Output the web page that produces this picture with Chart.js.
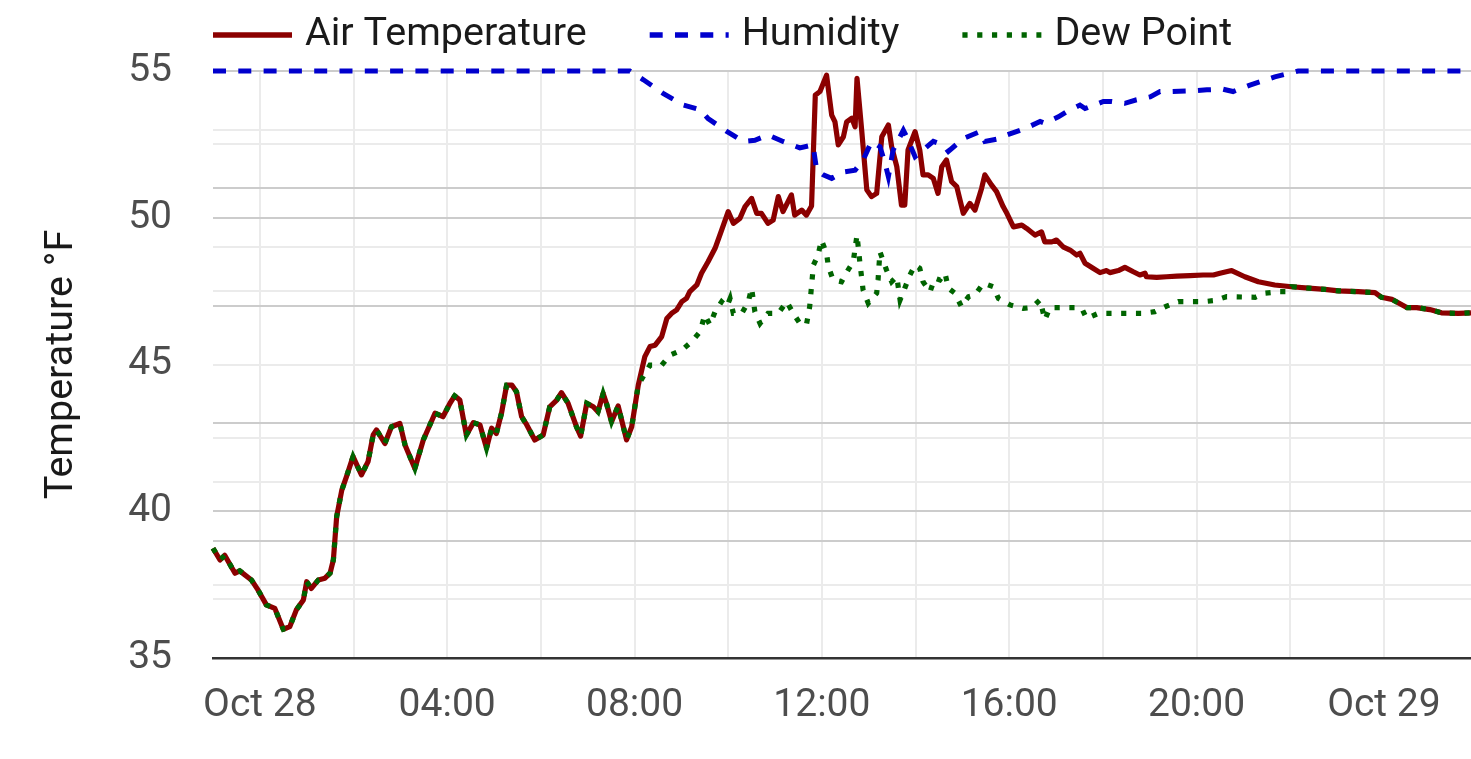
<!DOCTYPE html>
<html>
<head>
<meta charset="utf-8">
<script src="https://cdn.jsdelivr.net/npm/chart.js@4.4.1/dist/chart.umd.min.js"></script>
<style>
  html, body { margin: 0; padding: 0; background: #ffffff; }
  #c { display: block; }
</style>
</head>
<body>
<canvas id="c" width="1471" height="759"></canvas>
<script>
// Hours relative to Oct 28 00:00
const airTimes = [-1.00,-0.85,-0.75,-0.53,-0.43,-0.18,-0.04,0.14,0.32,0.50,0.64,0.78,0.93,1.00,1.10,1.25,1.39,1.50,1.57,1.64,1.75,1.85,1.99,2.17,2.31,2.42,2.49,2.67,2.81,2.99,3.10,3.31,3.49,3.74,3.91,4.06,4.16,4.27,4.41,4.56,4.70,4.84,4.95,5.05,5.16,5.27,5.38,5.48,5.59,5.70,5.87,6.05,6.19,6.34,6.44,6.58,6.76,6.85,6.98,7.12,7.22,7.33,7.40,7.51,7.65,7.83,7.94,8.08,8.22,8.33,8.44,8.58,8.69,8.79,8.90,9.01,9.11,9.18,9.33,9.43,9.57,9.72,9.86,10.00,10.11,10.25,10.36,10.50,10.61,10.71,10.85,10.96,11.07,11.17,11.35,11.42,11.57,11.67,11.78,11.86,11.96,12.10,12.21,12.28,12.35,12.46,12.53,12.64,12.71,12.75,12.85,12.96,13.06,13.17,13.28,13.42,13.49,13.60,13.70,13.77,13.84,13.99,14.09,14.16,14.27,14.38,14.48,14.56,14.66,14.77,14.88,15.02,15.16,15.27,15.41,15.48,15.62,15.73,15.87,15.95,16.09,16.27,16.37,16.55,16.69,16.76,16.91,17.01,17.15,17.30,17.44,17.51,17.62,17.79,17.94,18.08,18.15,18.33,18.47,18.65,18.79,18.90,18.93,19.15,19.36,19.58,19.86,20.14,20.36,20.50,20.75,21.03,21.32,21.67,22.03,22.39,22.74,23.03,23.45,23.81,23.95,24.17,24.49,24.70,24.98,25.23,25.59,25.86];
const airTemp = [38.74,38.34,38.50,37.89,37.97,37.66,37.32,36.81,36.69,35.98,36.07,36.64,36.98,37.60,37.37,37.66,37.72,37.89,38.34,39.81,40.72,41.18,41.86,41.24,41.69,42.60,42.77,42.31,42.88,42.99,42.26,41.46,42.43,43.34,43.22,43.68,43.93,43.79,42.60,43.02,42.94,42.15,42.83,42.65,43.34,44.30,44.30,44.07,43.22,42.94,42.43,42.60,43.56,43.79,44.04,43.68,42.88,42.56,43.68,43.56,43.39,44.01,43.68,43.05,43.59,42.43,42.88,44.30,45.27,45.61,45.66,45.95,46.57,46.74,46.86,47.14,47.25,47.48,47.71,48.11,48.50,48.96,49.58,50.21,49.81,49.98,50.38,50.66,50.15,50.15,49.81,49.92,50.72,50.21,50.78,50.09,50.26,50.09,50.40,54.18,54.30,54.86,53.50,53.27,52.48,52.76,53.27,53.39,53.10,54.75,52.99,50.95,50.72,50.83,52.76,53.16,52.42,51.74,50.43,50.43,52.31,52.93,52.31,51.46,51.46,51.34,50.83,51.74,51.97,51.23,51.06,50.15,50.49,50.26,51.00,51.46,51.12,50.89,50.38,50.15,49.69,49.75,49.64,49.41,49.52,49.18,49.18,49.24,49.01,48.90,48.73,48.79,48.45,48.28,48.13,48.20,48.13,48.20,48.31,48.16,48.05,48.11,47.99,47.97,47.99,48.01,48.03,48.05,48.05,48.11,48.20,47.99,47.82,47.71,47.65,47.60,47.56,47.51,47.48,47.45,47.29,47.22,46.94,46.94,46.87,46.76,46.74,46.76];

const humTimes = [-1.00,7.90,8.19,8.61,9.04,9.40,9.57,9.97,10.32,10.57,10.85,11.17,11.53,11.81,11.89,12.03,12.21,12.46,12.71,12.88,13.06,13.24,13.35,13.42,13.52,13.74,13.81,13.99,14.20,14.38,14.59,14.70,15.02,15.38,15.48,15.80,15.95,16.23,16.34,16.66,16.76,17.05,17.23,17.51,17.62,18.01,18.19,18.47,18.72,19.01,19.22,19.47,19.86,20.22,20.57,20.78,21.14,21.67,22.03,22.17,25.86];
const humidity = [100,100,98.5,96.2,94.2,93.4,91.9,89.7,88.0,88.2,89.1,88.0,86.9,87.4,83.1,82.3,81.7,82.8,83.1,84.8,88.0,87.1,84.3,82.0,86.5,89.9,88.8,85.4,86.8,88.0,87.4,86.3,88.5,89.7,88.0,88.5,89.1,89.9,90.2,91.4,91.1,92.2,93.1,94.2,93.6,94.8,94.8,94.5,95.1,95.6,96.5,96.5,96.6,96.8,96.9,96.5,97.6,99.0,99.7,100,100];

const dewTimes = [-1.00,-0.85,-0.75,-0.53,-0.43,-0.18,-0.04,0.14,0.32,0.50,0.64,0.78,0.93,1.00,1.10,1.25,1.39,1.50,1.57,1.64,1.75,1.85,1.99,2.17,2.31,2.42,2.49,2.67,2.81,2.99,3.10,3.31,3.49,3.74,3.91,4.06,4.16,4.27,4.41,4.56,4.70,4.84,4.95,5.05,5.16,5.27,5.38,5.48,5.59,5.70,5.87,6.05,6.19,6.34,6.44,6.58,6.76,6.85,6.98,7.12,7.22,7.33,7.40,7.51,7.65,7.83,7.94,8.08,8.19,8.33,8.58,8.76,9.01,9.22,9.40,9.50,9.61,9.72,9.86,9.97,10.04,10.11,10.29,10.43,10.50,10.57,10.68,10.85,11.07,11.25,11.39,11.53,11.67,11.74,11.82,11.92,11.99,12.10,12.14,12.24,12.42,12.56,12.67,12.75,12.81,12.88,12.99,13.17,13.20,13.24,13.38,13.49,13.60,13.67,13.77,13.88,13.99,14.09,14.16,14.31,14.41,14.52,14.63,14.70,14.84,14.98,15.13,15.27,15.45,15.66,15.77,16.02,16.30,16.48,16.66,16.76,16.87,17.08,17.40,17.55,17.65,17.90,18.22,18.51,18.83,19.11,19.36,19.61,19.86,20.14,20.39,20.64,21.25,21.46,21.78,21.99,22.03,22.39,22.74,23.03,23.45,23.81,23.95,24.17,24.49,24.70,24.98,25.23,25.59,25.86];
const dewPoint = [38.74,38.34,38.50,37.89,37.97,37.66,37.32,36.81,36.69,35.98,36.07,36.64,36.98,37.60,37.37,37.66,37.72,37.89,38.34,39.81,40.72,41.18,41.86,41.24,41.69,42.60,42.77,42.31,42.88,42.99,42.26,41.46,42.43,43.34,43.22,43.68,43.93,43.79,42.60,43.02,42.94,42.15,42.83,42.65,43.34,44.30,44.30,44.07,43.22,42.94,42.43,42.60,43.56,43.79,44.04,43.68,42.88,42.56,43.68,43.56,43.39,44.01,43.68,43.05,43.59,42.43,42.88,44.30,44.60,44.98,44.98,45.32,45.49,45.78,46.12,46.69,46.35,46.80,47.14,46.97,47.25,46.74,46.74,47.14,47.60,46.80,46.40,46.74,46.74,47.14,46.74,46.40,46.35,46.97,48.39,48.73,49.24,48.79,48.33,47.88,47.82,48.22,48.50,49.41,48.50,47.54,47.09,47.43,47.88,48.84,48.22,47.82,47.99,47.20,47.60,48.05,48.39,48.28,47.82,47.48,47.94,47.88,48.11,47.60,47.43,46.97,47.31,47.37,47.77,47.65,47.25,47.03,46.91,46.94,47.20,46.52,46.94,46.94,46.94,46.91,46.57,46.74,46.74,46.74,46.74,46.80,46.99,47.14,47.14,47.14,47.18,47.31,47.29,47.43,47.48,47.48,47.65,47.60,47.56,47.51,47.48,47.45,47.29,47.22,46.94,46.94,46.87,46.76,46.74,46.76];

const seriesLabels = ['Air Temperature', 'Humidity', 'Dew Point'];
const xTickValues = [0, 4, 8, 12, 16, 20, 24];
const xTickLabels = ['Oct 28', '04:00', '08:00', '12:00', '16:00', '20:00', 'Oct 29'];
const yTickValues = [35, 40, 45, 50, 55];
const yTickLabels = ['35', '40', '45', '50', '55'];

const FONT = 'Roboto';
const pts = (ts, vs) => ts.map((t, i) => ({ x: t, y: vs[i] }));

const legendPlugin = {
  id: 'refLegend',
  afterDraw(chart) {
    const ctx = chart.ctx;
    const y = 35;
    let x = chart.chartArea.left;
    ctx.save();
    ctx.font = '39.5px ' + FONT;
    ctx.textBaseline = 'middle';
    ctx.textAlign = 'left';
    chart.data.datasets.forEach(ds => {
      ctx.beginPath();
      ctx.setLineDash(ds.borderDash || []);
      ctx.lineCap = 'butt';
      ctx.strokeStyle = ds.borderColor;
      ctx.lineWidth = 5.5;
      ctx.moveTo(x, y);
      ctx.lineTo(x + 79, y);
      ctx.stroke();
      ctx.setLineDash([]);
      ctx.fillStyle = '#1a1a1a';
      ctx.fillText(ds.label, x + 79 + 13, y);
      x += 79 + 13 + ctx.measureText(ds.label).width + 63;
    });
    ctx.restore();
  }
};

function draw() {
  new Chart(document.getElementById('c'), {
    type: 'line',
    data: {
      datasets: [
        { label: seriesLabels[0], data: pts(airTimes, airTemp), yAxisID: 'y',
          borderColor: '#8b0000', borderWidth: 5.2, borderJoinStyle: 'round',
          pointRadius: 0, tension: 0, clip: false, order: 3 },
        { label: seriesLabels[1], data: pts(humTimes, humidity), yAxisID: 'y2',
          borderColor: '#0000cd', borderWidth: 5, borderDash: [13, 12.3], borderCapStyle: 'butt',
          pointRadius: 0, tension: 0, clip: false, order: 2 },
        { label: seriesLabels[2], data: pts(dewTimes, dewPoint), yAxisID: 'y',
          borderColor: '#006400', borderWidth: 5.2, borderDash: [5.2, 9.6], borderCapStyle: 'butt',
          pointRadius: 0, tension: 0, clip: false, order: 1 }
      ]
    },
    options: {
      responsive: false,
      animation: false,
      devicePixelRatio: 1,
      layout: { padding: { top: 71, left: 0, right: 0, bottom: 0 } },
      plugins: { legend: { display: false }, tooltip: { enabled: false } },
      scales: {
        x: {
          type: 'linear', min: -1, max: 25.86,
          afterFit: s => { s.height = 101; },
          ticks: {
            stepSize: 2, includeBounds: false, autoSkip: false, maxRotation: 0, padding: 25,
            color: '#4d4d4d', font: { family: FONT, size: 39 },
            callback: v => { const i = xTickValues.indexOf(v); return i >= 0 ? xTickLabels[i] : ''; }
          },
          grid: { drawTicks: false, color: '#ebebeb', lineWidth: 2 },
          border: { display: true, color: '#333333', width: 2.5, z: 1 }
        },
        y: {
          type: 'linear', position: 'left', min: 35, max: 55,
          afterFit: s => { s.width = 213; },
          ticks: {
            stepSize: 2.5, autoSkip: false, padding: 41,
            color: '#4d4d4d', font: { family: FONT, size: 39 },
            callback: v => { const i = yTickValues.indexOf(v); return i >= 0 ? yTickLabels[i] : ''; }
          },
          grid: {
            drawTicks: false, lineWidth: 2,
            color: c => {
              const v = c.tick ? c.tick.value : null;
              if (v === 35) return 'rgba(0,0,0,0)';
              return (v % 10 === 0 || v === 55) ? '#cccccc' : '#ebebeb';
            }
          },
          border: { display: false },
          title: {
            display: true, text: 'Temperature °F', color: '#1a1a1a',
            font: { family: FONT, size: 39.5 }, padding: { top: 38, bottom: 0 }
          }
        },
        y2: {
          type: 'linear', position: 'right', min: 0, max: 100,
          afterFit: s => { s.width = 0; },
          ticks: { display: false, stepSize: 10, autoSkip: false },
          grid: {
            drawTicks: false, lineWidth: 2,
            color: c => {
              const v = c.tick ? c.tick.value : null;
              if (v === 0) return 'rgba(0,0,0,0)';
              return v % 20 === 0 ? '#cccccc' : '#ebebeb';
            }
          },
          border: { display: false }
        }
      }
    },
    plugins: [legendPlugin]
  });
}

if (document.fonts && document.fonts.load) {
  document.fonts.load('39px ' + FONT).then(draw, draw);
} else {
  draw();
}
</script>
</body>
</html>
